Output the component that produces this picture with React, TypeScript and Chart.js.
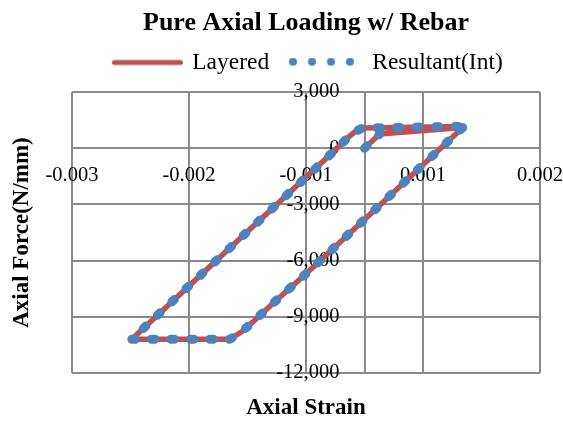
import { useEffect, useRef } from 'react';
import { Chart, registerables } from 'chart.js';
Chart.register(...registerables);

const chartTitle = 'Pure Axial Loading w/ Rebar';
const seriesNames = ['Layered', 'Resultant(Int)'];
const xAxisTitle = 'Axial Strain';
const yAxisTitle = 'Axial Force(N/mm)';

const layeredStrain = [0, 0.00013, 0.00084, 0.0005, 0, -0.0005, -0.0008, -0.00095, -0.00105, -0.00115, -0.0015, -0.00199, -0.0015, -0.001, -0.0005, -0.00027, -0.00015, -0.00008, -0.00002, 0.0004, 0.00084];
const layeredForce = [0, 760, 1100, -880, -3800, -6700, -8380, -9250, -9800, -10200, -10200, -10200, -7350, -4450, -1550, -210, 520, 880, 1080, 1120, 1160];

const resultantStrain = [0, 0.00013, 0.0005, 0.00084, 0.0005, 0, -0.0005, -0.0008, -0.00095, -0.00105, -0.00115, -0.0015, -0.00199, -0.0015, -0.001, -0.0005, -0.00027, -0.00015, -0.00008, -0.00002, 0.0004, 0.00084];
const resultantForce = [0, 760, null, 1100, -880, -3800, -6700, -8380, -9250, -9800, -10200, -10200, -10200, -7350, -4450, -1550, -210, 520, 880, 1080, 1120, 1160];

const xTickValues = [-0.0025, -0.0015, -0.0005, 0.0005, 0.0015];
const xTickLabels = ['-0.003', '-0.002', '-0.001', '0.001', '0.002'];
const yTickValues = [-12000, -9000, -6000, -3000, 0, 3000];
const yTickLabels = ['-12,000', '-9,000', '-6,000', '-3,000', '0', '3,000'];

const RED = '#C0504D';
const BLUE = '#4F81BD';
const GRID = '#8a8a8a';
const FONT = "'Liberation Serif', 'Times New Roman', serif";

function makeLineSample() {
  const c = document.createElement('canvas');
  c.width = 78; c.height = 10;
  const ctx = c.getContext('2d')!;
  ctx.strokeStyle = RED; ctx.lineWidth = 5; ctx.lineCap = 'round';
  ctx.beginPath(); ctx.moveTo(8.5, 5); ctx.lineTo(74.5, 5); ctx.stroke();
  return c;
}
function makeDotSample() {
  const c = document.createElement('canvas');
  c.width = 80; c.height = 10;
  const ctx = c.getContext('2d')!;
  ctx.fillStyle = BLUE;
  [8.1, 27.1, 46.1, 65.1].forEach((cx) => { ctx.beginPath(); ctx.arc(cx, 4.3, 4, 0, Math.PI * 2); ctx.fill(); });
  return c;
}

const hidden = { grid: { display: false }, border: { display: false }, ticks: { display: false } };

export default function App() {
  const ref = useRef<HTMLCanvasElement>(null);
  useEffect(() => {
    const lineImg = makeLineSample();
    const dotImg = makeDotSample();
    const layered = layeredStrain.map((x, i) => ({ x, y: layeredForce[i] }));
    const resultant = resultantStrain.map((x, i) => ({ x, y: resultantForce[i] }));
    const chart = new Chart(ref.current!, {
      type: 'scatter',
      data: {
        datasets: [
          { label: seriesNames[0], data: layered, showLine: true, borderColor: RED, backgroundColor: RED, borderWidth: 5.5, pointRadius: 0, borderJoinStyle: 'round', order: 1 },
          { label: seriesNames[1], data: resultant, showLine: true, borderColor: BLUE, backgroundColor: BLUE, borderWidth: 9, borderDash: [3.5, 16], borderCapStyle: 'round', borderJoinStyle: 'round', pointRadius: 0, spanGaps: false, order: 0 },
        ],
      } as any,
      options: {
        responsive: false,
        animation: false,
        layout: { padding: { left: 0, right: 23, top: 0, bottom: 0 } },
        plugins: {
          tooltip: { enabled: false },
          title: { display: true, text: chartTitle, fullSize: false, color: '#000', font: { family: FONT, size: 26, weight: 'bold' }, padding: { top: 7.4, bottom: -7.85 } },
          legend: {
            display: true, position: 'top', fullSize: false,
            labels: {
              usePointStyle: true, pointStyleWidth: 71.25, padding: 20, color: '#000',
              font: { family: FONT, size: 23.5 },
              generateLabels: (c: any) => {
                const items = (Chart.defaults.plugins.legend.labels as any).generateLabels(c);
                items.sort((a: any, b: any) => a.datasetIndex - b.datasetIndex);
                return items.map((it: any) => ({ ...it, pointStyle: it.datasetIndex === 0 ? lineImg : dotImg, lineWidth: 0 }));
              },
            },
          },
        },
        scales: {
          x: {
            type: 'linear', position: { y: 0 } as any, min: -0.0025, max: 0.0015,
            afterBuildTicks: (s: any) => { s.ticks = xTickValues.map((v) => ({ value: v })); },
            afterFit: (s: any) => { s.paddingLeft = 0; s.paddingRight = 0; },
            grid: { color: GRID, lineWidth: 2, drawTicks: false },
            border: { display: true, color: GRID, width: 2 },
            ticks: { color: '#000', font: { family: FONT, size: 20.5 }, padding: 14.7, maxRotation: 0, autoSkip: false, callback: (_v: any, i: number) => xTickLabels[i] },
          },
          y: {
            type: 'linear', position: { x: 0 } as any, min: -12000, max: 3000,
            afterBuildTicks: (s: any) => { s.ticks = yTickValues.map((v) => ({ value: v })); },
            afterFit: (s: any) => { s.paddingTop = 0; s.paddingBottom = 0; },
            grid: { color: GRID, lineWidth: 2, drawTicks: false },
            border: { display: true, color: GRID, width: 2 },
            ticks: { display: false },
          },
          yLabels: {
            type: 'linear', axis: 'y', position: { x: -0.000214 } as any, min: -12000, max: 3000,
            afterBuildTicks: (s: any) => { s.ticks = yTickValues.map((v) => ({ value: v })); },
            afterFit: (s: any) => { s.paddingTop = 0; s.paddingBottom = 0; },
            grid: { display: false, drawTicks: false }, border: { display: false },
            ticks: { color: '#000', font: { family: FONT, size: 20.5 }, padding: 0, autoSkip: false, callback: (_v: any, i: number) => yTickLabels[i] },
          },
          yTitle: {
            type: 'linear', axis: 'y', position: 'left', min: 0, max: 1, ...hidden,
            title: { display: true, text: yAxisTitle, color: '#000', font: { family: FONT, size: 23, weight: 'bold' }, padding: { top: 8.2, bottom: 0 } },
            afterFit: (s: any) => { s.width = 72; },
          },
          xTitle: {
            type: 'linear', axis: 'x', position: 'bottom', min: 0, max: 1, ...hidden,
            title: { display: true, text: xAxisTitle, color: '#000', font: { family: FONT, size: 23, weight: 'bold' }, padding: { top: 0, bottom: 1.2 } },
            afterFit: (s: any) => { s.height = 50; },
          },
          xTop: {
            type: 'linear', axis: 'x', position: 'top', min: 0, max: 1, ...hidden,
            afterFit: (s: any) => { s.height = 7.75; },
          },
        } as any,
      },
    });
    return () => chart.destroy();
  }, []);
  return (
    <div style={{ position: 'fixed', left: 0, top: 0, width: 563, height: 423, background: '#fff' }}>
      <canvas ref={ref} width={563} height={423} style={{ display: 'block' }} />
    </div>
  );
}
